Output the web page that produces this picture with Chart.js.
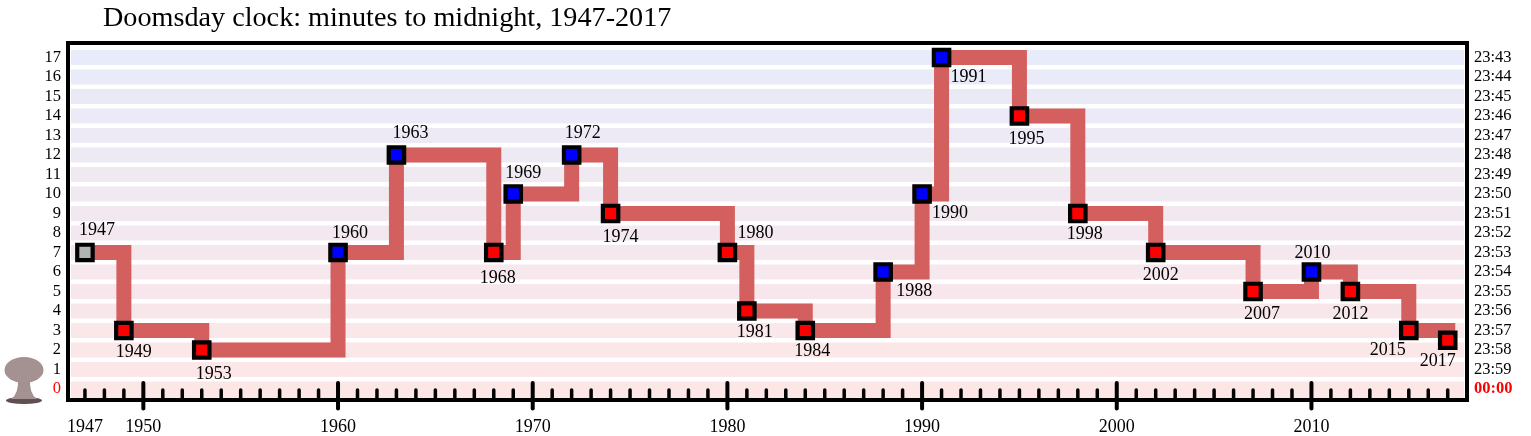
<!DOCTYPE html>
<html>
<head>
<meta charset="utf-8">
<title>Doomsday clock</title>
<script src="https://cdn.jsdelivr.net/npm/chart.js@4"></script>
<style>
    html, body { margin: 0; padding: 0; background: #fff; overflow: hidden; }
    canvas { display: block; }
</style>
</head>
<body>
<canvas id="clock" width="1531" height="436"></canvas>
<script>
const years = [1947, 1949, 1953, 1960, 1963, 1968, 1969, 1972, 1974, 1980, 1981, 1984,
    1988, 1990, 1991, 1995, 1998, 2002, 2007, 2010, 2012, 2015, 2017];
const minutes = [7, 3, 2, 7, 12, 7, 10, 12, 9, 7, 4, 3, 6, 10, 17, 14, 9, 7, 5, 6, 5, 3, 2.5];
const markerKinds = ['start', 'down', 'down', 'up', 'up', 'down', 'up', 'up', 'down', 'down', 'down', 'down',
    'up', 'up', 'up', 'down', 'down', 'down', 'down', 'up', 'down', 'down', 'down'];
const xTickLabels = [1947, 1950, 1960, 1970, 1980, 1990, 2000, 2010];
const minuteTicks = [0, 1, 2, 3, 4, 5, 6, 7, 8, 9, 10, 11, 12, 13, 14, 15, 16, 17];
const clockLabels = ['00:00', '23:59', '23:58', '23:57', '23:56', '23:55', '23:54', '23:53', '23:52',
    '23:51', '23:50', '23:49', '23:48', '23:47', '23:46', '23:45', '23:44', '23:43'];

const SERIF = '"Liberation Serif", "Times New Roman", serif';
const markerColors = { start: '#b3b3b3', up: '#0000ff', down: '#ff0000' };

// label offsets from each marker, picked by eye so they dodge the line
const labelOffsets = [[12, -22], [10, 22], [12, 24], [12, -19], [14, -22], [4, 26], [10, -21], [11, -22],
    [10, 24], [28, -19], [8, 21], [7, 21], [31, 19], [28, 19], [27, 20], [7, 23], [7, 21], [5, 23],
    [9, 23], [1, -19], [0, 23], [-21, 20], [-10, 21]];

function mixBand(v) {
    const t = v / 17;
    const r = Math.round(253 + (232 - 253) * t);
    const g = Math.round(230 + (235 - 230) * t);
    const b = Math.round(230 + (249 - 230) * t);
    return 'rgb(' + r + ',' + g + ',' + b + ')';
}

const backdrop = {
    id: 'backdrop',
    beforeDatasetsDraw: function (chart) {
        const ctx = chart.ctx;
        const area = chart.chartArea;
        const y = chart.scales.y;
        ctx.save();
        minuteTicks.forEach(function (v) {
            const top = y.getPixelForValue(v) - 7.5;
            // the bottom band runs down into the frame
            const height = v === 0 ? area.bottom - top : 15;
            ctx.fillStyle = mixBand(v);
            ctx.fillRect(area.left + 3, top, area.right - area.left - 6, height);
        });
        ctx.restore();
    }
};

const decorations = {
    id: 'decorations',
    afterDatasetsDraw: function (chart) {
        const ctx = chart.ctx;
        const area = chart.chartArea;
        const x = chart.scales.x;
        const y = chart.scales.y;
        ctx.save();

        // frame
        ctx.strokeStyle = '#000';
        ctx.lineWidth = 4;
        ctx.strokeRect(area.left, area.top, area.right - area.left, area.bottom - area.top);

        // year ticks
        ctx.lineCap = 'round';
        for (let year = 1947; year <= 2017; year++) {
            const px = x.getPixelForValue(year);
            const major = year % 10 === 0;
            ctx.lineWidth = major ? 4 : 3.5;
            ctx.beginPath();
            ctx.moveTo(px, major ? 383 : 390);
            ctx.lineTo(px, major ? 408.5 : 400);
            ctx.stroke();
        }

        // year labels next to the markers
        ctx.lineCap = 'butt';
        ctx.fillStyle = '#000';
        ctx.font = '18px ' + SERIF;
        ctx.textAlign = 'center';
        ctx.textBaseline = 'middle';
        years.forEach(function (year, i) {
            const px = x.getPixelForValue(year) + labelOffsets[i][0];
            const py = y.getPixelForValue(minutes[i]) + labelOffsets[i][1];
            ctx.fillText(String(year), px, py);
        });

        // title
        ctx.font = '28.2px ' + SERIF;
        ctx.textAlign = 'left';
        ctx.textBaseline = 'alphabetic';
        ctx.fillText('Doomsday clock: minutes to midnight, 1947-2017', 103, 26);

        // mushroom cloud
        ctx.fillStyle = '#5f4f4f';
        ctx.beginPath();
        ctx.ellipse(24, 400.5, 18, 3.5, 0, 0, Math.PI * 2);
        ctx.fill();
        ctx.fillStyle = '#a49292';
        ctx.beginPath();
        ctx.ellipse(24, 370, 19.5, 13, 0, 0, Math.PI * 2);
        ctx.fill();
        ctx.beginPath();
        ctx.moveTo(18, 378);
        ctx.lineTo(30, 378);
        ctx.quadraticCurveTo(29, 394, 37, 399);
        ctx.lineTo(11, 399);
        ctx.quadraticCurveTo(19, 394, 18, 378);
        ctx.fill();
        ctx.restore();
    }
};

const points = years.map(function (year, i) {
    return { x: year, y: minutes[i] };
});

new Chart(document.getElementById('clock'), {
    type: 'line',
    data: {
        datasets: [{
            data: points,
            stepped: true,
            borderColor: '#d45f5f',
            borderWidth: 15,
            borderJoinStyle: 'miter',
            borderCapStyle: 'butt',
            pointStyle: 'rect',
            pointRadius: 10.9,
            pointBorderWidth: 4.2,
            pointBorderColor: '#000',
            pointBackgroundColor: markerKinds.map(function (k) { return markerColors[k]; }),
        }],
    },
    options: {
        responsive: false,
        animation: false,
        devicePixelRatio: 1,
        layout: { padding: { top: 43 } },
        plugins: {
            legend: { display: false },
            tooltip: { enabled: false },
        },
        scales: {
            x: {
                type: 'linear',
                min: 1946.13,
                max: 2017.99,
                afterBuildTicks: function (scale) {
                    scale.ticks = xTickLabels.map(function (v) { return { value: v }; });
                },
                afterFit: function (scale) { scale.height = 36; },
                grid: { display: false, drawTicks: false },
                border: { display: false },
                ticks: {
                    autoSkip: false,
                    maxRotation: 0,
                    padding: 16,
                    color: '#000',
                    font: { family: SERIF, size: 18 },
                    callback: function (v) { return String(v); },
                },
            },
            y: {
                position: 'left',
                min: -0.564,
                max: 17.74,
                afterBuildTicks: function (scale) {
                    scale.ticks = minuteTicks.map(function (v) { return { value: v }; });
                },
                afterFit: function (scale) { scale.width = 68; },
                grid: { display: false, drawTicks: false },
                border: { display: false },
                ticks: {
                    autoSkip: false,
                    padding: 7,
                    color: function (c) { return c.tick.value === 0 ? '#ff0000' : '#000'; },
                    font: { family: SERIF, size: 16.5 },
                    callback: function (v) { return String(v); },
                },
            },
            clock: {
                position: 'right',
                min: -0.564,
                max: 17.74,
                afterBuildTicks: function (scale) {
                    scale.ticks = minuteTicks.map(function (v) { return { value: v }; });
                },
                afterFit: function (scale) { scale.width = 64; },
                grid: { display: false, drawTicks: false },
                border: { display: false },
                ticks: {
                    autoSkip: false,
                    padding: 7,
                    color: function (c) { return c.tick.value === 0 ? '#ff0000' : '#000'; },
                    font: function (c) {
                        return { family: SERIF, size: 16.5, weight: c.tick && c.tick.value === 0 ? 'bold' : 'normal' };
                    },
                    callback: function (v) { return clockLabels[v]; },
                },
            },
        },
    },
    plugins: [backdrop, decorations],
});
</script>
</body>
</html>
